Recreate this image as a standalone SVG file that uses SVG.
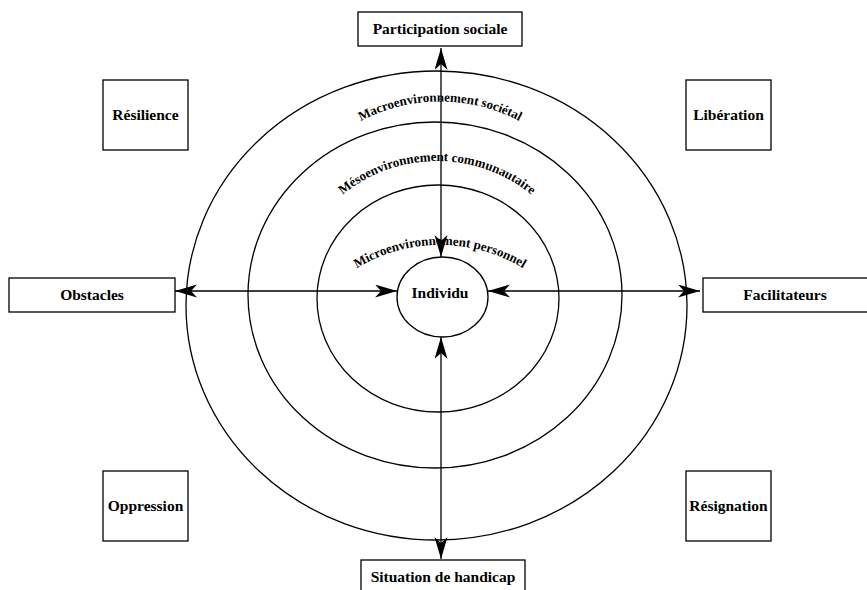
<svg xmlns="http://www.w3.org/2000/svg" width="867" height="590" viewBox="0 0 867 590">
<style>
.box{fill:#fff;stroke:#000;stroke-width:1.3}
.ring{fill:none;stroke:#000;stroke-width:1.3}
.lbl{font-family:"Liberation Serif","Times New Roman",serif;font-weight:bold;font-size:15.5px;fill:#000;text-anchor:middle}
.arc{font-family:"Liberation Serif","Times New Roman",serif;font-weight:bold;font-size:13px;fill:#000}
.conn{stroke:#000;stroke-width:1.3;fill:none;marker-start:url(#ah);marker-end:url(#ah)}
</style>
<defs>
<marker id="ah" markerUnits="userSpaceOnUse" markerWidth="24" markerHeight="14" refX="22" refY="6.5" orient="auto-start-reverse" viewBox="0 0 24 14">
<path d="M0,0 L22,6.5 L0,13 L6,6.5 z" fill="#000"/>
</marker>
<path id="pMacro" d="M300,175 A170,170 0 0,1 580,175"/>
<path id="pMeso" d="M297,259 A149,149 0 0,1 577,259"/>
<path id="pMicro" d="M300,327.5 A160,160 0 0,1 580,327.5"/>
</defs>
<rect width="867" height="590" fill="#fff"/>
<g id="rings">
<ellipse id="macro" class="ring" cx="436.5" cy="305.5" rx="250.5" ry="234.5"/>
<ellipse id="meso" class="ring" cx="435" cy="295" rx="187" ry="173"/>
<ellipse id="micro" class="ring" cx="438" cy="298.5" rx="121" ry="113.5"/>
</g>
<g id="connectors">
<line class="conn" x1="441" y1="257" x2="441" y2="48"/>
<line class="conn" x1="441" y1="337" x2="441" y2="559"/>
<line class="conn" x1="397" y1="291" x2="175" y2="291"/>
<line class="conn" x1="488" y1="291" x2="700" y2="291"/>
</g>
<g id="ring-labels">
<text class="arc"><textPath href="#pMacro" startOffset="50%" text-anchor="middle">Macroenvironnement sociétal</textPath></text>
<text class="arc"><textPath href="#pMeso" startOffset="50%" text-anchor="middle">Mésoenvironnement communautaire</textPath></text>
<text class="arc"><textPath href="#pMicro" startOffset="50%" text-anchor="middle">Microenvironnement personnel</textPath></text>
</g>
<g id="individu">
<ellipse class="ring" cx="442.5" cy="297" rx="45.5" ry="40"/>
<text class="lbl" x="440" y="298">Individu</text>
</g>
<g id="participation">
<rect class="box" x="358" y="12" width="164" height="34"/>
<text class="lbl" x="440" y="34">Participation sociale</text>
</g>
<g id="situation">
<rect class="box" x="361" y="560" width="164" height="40"/>
<text class="lbl" x="443" y="582">Situation de handicap</text>
</g>
<g id="obstacles">
<rect class="box" x="9" y="278" width="166" height="34"/>
<text class="lbl" x="92" y="300">Obstacles</text>
</g>
<g id="facilitateurs">
<rect class="box" x="703" y="278" width="170" height="34"/>
<text class="lbl" x="785" y="300">Facilitateurs</text>
</g>
<g id="resilience">
<rect class="box" x="103" y="80" width="85" height="70"/>
<text class="lbl" x="145.5" y="120">Résilience</text>
</g>
<g id="liberation">
<rect class="box" x="686" y="80" width="85" height="70"/>
<text class="lbl" x="728.5" y="120">Libération</text>
</g>
<g id="oppression">
<rect class="box" x="103" y="471" width="85" height="70"/>
<text class="lbl" x="145.5" y="511">Oppression</text>
</g>
<g id="resignation">
<rect class="box" x="686" y="471" width="85" height="70"/>
<text class="lbl" x="728.5" y="511">Résignation</text>
</g>
</svg>
